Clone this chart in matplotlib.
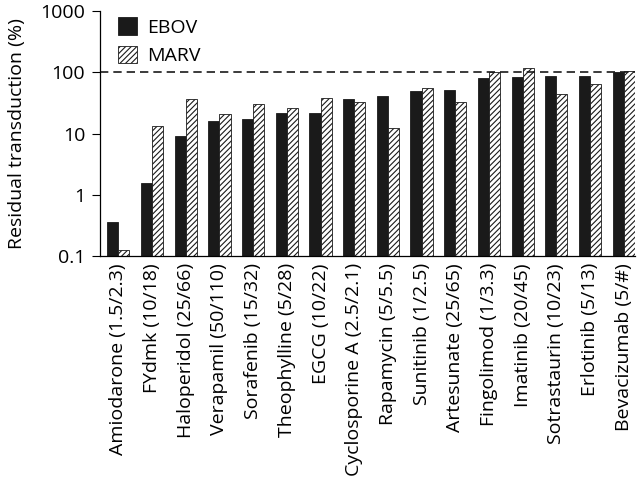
import numpy as np
import matplotlib.pyplot as plt

plt.rcParams["font.family"] = ["Open Sans", "DejaVu Sans"]
plt.rcParams["hatch.linewidth"] = 0.8

drugs = ["Amiodarone (1.5/2.3)", "FYdmk (10/18)", "Haloperidol (25/66)",
         "Verapamil (50/110)", "Sorafenib (15/32)", "Theophylline (5/28)",
         "EGCG (10/22)", "Cyclosporine A (2.5/2.1)", "Rapamycin (5/5.5)",
         "Sunitinib (1/2.5)", "Artesunate (25/65)", "Fingolimod (1/3.3)",
         "Imatinib (20/45)", "Sotrastaurin (10/23)", "Erlotinib (5/13)",
         "Bevacizumab (5/#)"]
ebov = [0.36, 1.57, 9.0, 16.1, 17.6, 21.8, 21.8, 36, 41, 50, 52, 81, 83, 87.5, 87.5, 101]
marv = [0.125, 13.2, 36, 20.5, 30, 26.6, 38, 32.5, 12.2, 55.7, 32.5, 100, 118, 44.5, 65.6, 104]

x = np.arange(len(drugs))
w = 0.33

fig, ax = plt.subplots(figsize=(6.4, 4.78), dpi=100)
fig.subplots_adjust(left=0.157, right=0.992, top=0.977, bottom=0.464)

ax.bar(x - w / 2, ebov, w, color="#1a1a1a", edgecolor="#1a1a1a", linewidth=0.6, label="EBOV")
ax.bar(x + w / 2, marv, w, color="white", edgecolor="#1a1a1a", linewidth=0.6,
       hatch="//////", label="MARV")
ax.axhline(100, color="#1a1a1a", linestyle=(0, (5, 3)), linewidth=1.2)

ax.set_yscale("log")
ax.set_ylim(0.1, 1000)
ax.set_xlim(-0.53, 15.33)
ax.set_yticks([0.1, 1, 10, 100, 1000])
ax.set_yticklabels(["0.1", "1", "10", "100", "1000"])
ax.minorticks_off()
ax.set_xticks(x)
ax.set_xticklabels(drugs, rotation=90, fontsize=14)
ax.tick_params(axis="x", length=0, pad=5)
ax.tick_params(axis="y", labelsize=14, length=6, width=0.8, direction="out", pad=5)
ax.set_ylabel("Residual transduction (%)", fontsize=14, labelpad=10)

for side in ["top", "right"]:
    ax.spines[side].set_visible(False)
for side in ["left", "bottom"]:
    ax.spines[side].set_linewidth(0.9)

ax.legend(loc="upper left", bbox_to_anchor=(0.0, 1.045), frameon=False,
          fontsize=14, handlelength=1.0, handleheight=1.0, handletextpad=0.5,
          labelspacing=0.45)

plt.savefig("out.png", dpi=100)
